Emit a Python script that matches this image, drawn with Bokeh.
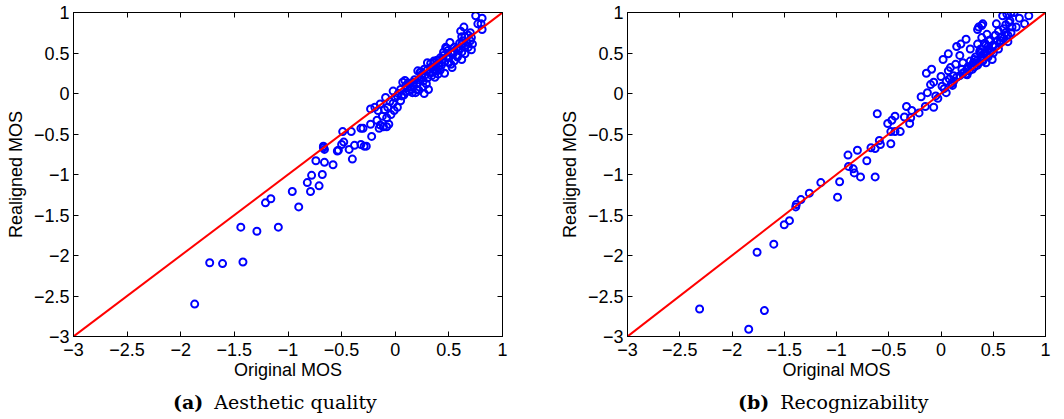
from bokeh.plotting import figure
from bokeh.models import LinearAxis, FixedTicker, Range1d, Div, CustomLabelingPolicy
from bokeh.layouts import row, column
from bokeh.embed import file_html
from bokeh.resources import INLINE

ticks = [-3, -2.5, -2, -1.5, -1, -0.5, 0, 0.5, 1]
tick_labels = ["\u22123", "\u22122.5", "\u22122", "\u22121.5", "\u22121", "\u22120.5", "0", "0.5", "1"]
diag = [-3, 1]

x_label = "Original MOS"
y_label = "Realigned MOS"

# Panel (a): Aesthetic quality
a_orig = [-1.87, -1.73, -1.61, -1.42, -1.44, -1.29, -1.09, -1.21, -1.16, -0.96, -0.90, -0.82, -0.78, -0.79, -0.71, -0.68,
          -0.74, -0.66, -0.58, -0.67, -0.66, -0.67, -0.54, -0.53, -0.50, -0.48, -0.49, -0.41, -0.43, -0.40, -0.38, -0.32,
          -0.29, -0.27, -0.32, -0.30, -0.22, -0.23, -0.23, -0.19, -0.16, -0.14, -0.17, -0.14, -0.15, -0.11, -0.08, -0.06,
          -0.08, -0.07, -0.09, -0.04, -0.01, 0.02, -0.02, 0.02, 0.05, 0.06, 0.07, 0.09, 0.11, 0.14, 0.17, 0.19, 0.20, 0.21,
          0.23, 0.25, 0.27, 0.31, 0.29, 0.30, 0.33, 0.36, 0.35, 0.37, 0.39, 0.41, 0.46, 0.45, 0.47, 0.49, 0.51, 0.54, 0.53,
          0.50, 0.55, 0.58, 0.59, 0.62, 0.64, 0.61, 0.62, 0.65, 0.62, 0.67, 0.68, 0.70, 0.71, 0.71, 0.75, 0.77, 0.81, 0.81,
          0.80, 0.72,
          0.05, 0.10, 0.12, 0.15, 0.18, 0.22, 0.25, 0.28, 0.30, 0.32, 0.35, 0.38, 0.40, 0.42, 0.44, 0.46, 0.48, 0.50, 0.52,
          0.55, 0.57, 0.60, 0.63, 0.66, -0.05, -0.10, -0.12, -0.02, 0.00, 0.03, 0.08, 0.13, 0.17, 0.20, 0.26, 0.30, 0.34,
          0.37, 0.40, 0.43, 0.45, 0.48, 0.52, 0.55, 0.58, 0.62, 0.65, 0.68, 0.70, 0.10, 0.14, 0.24, 0.27, 0.33, 0.36, 0.39,
          0.42, 0.26, 0.16, 0.22]
a_real = [-2.60, -2.09, -2.10, -2.08, -1.65, -1.70, -1.65, -1.35, -1.30, -1.21, -1.40, -1.10, -1.01, -1.21, -1.14, -1.00,
          -0.83, -0.85, -0.88, -0.65, -0.69, -0.67, -0.71, -0.70, -0.63, -0.60, -0.47, -0.47, -0.69, -0.81, -0.64, -0.63,
          -0.65, -0.65, -0.43, -0.43, -0.53, -0.38, -0.19, -0.17, -0.21, -0.13, -0.33, -0.39, -0.43, -0.41, -0.41, -0.38,
          -0.30, -0.17, -0.05, -0.26, -0.21, -0.17, 0.03, -0.03, -0.09, -0.03, 0.14, 0.16, 0.07, 0.08, 0.14, 0.01, 0.05, 0.28,
          0.26, 0.20, 0.00, 0.05, 0.12, 0.38, 0.32, 0.38, 0.26, 0.20, 0.28, 0.34, 0.25, 0.47, 0.57, 0.53, 0.63, 0.49, 0.32,
          0.38, 0.57, 0.47, 0.55, 0.61, 0.82, 0.77, 0.70, 0.49, 0.42, 0.63, 0.57, 0.75, 0.54, 0.69, 0.96, 0.86, 0.93, 0.79,
          0.86, 0.61,
          0.05, 0.10, 0.13, 0.05, 0.17, 0.17, 0.24, 0.23, 0.29, 0.26, 0.33, 0.34, 0.37, 0.29, 0.42, 0.39, 0.45, 0.44, 0.50,
          0.52, 0.55, 0.62, 0.65, 0.60, -0.10, -0.20, -0.28, -0.12, -0.05, 0.00, -0.02, 0.03, 0.10, 0.12, 0.15, 0.19, 0.22,
          0.28, 0.24, 0.35, 0.51, 0.56, 0.36, 0.40, 0.45, 0.51, 0.70, 0.72, 0.65, 0.02, 0.12, 0.27, 0.30, 0.37, 0.40, 0.41,
          0.44, 0.08, 0.01, 0.04]

# Panel (b): Recognizability
b_orig = [-2.31, -1.84, -1.69, -1.76, -1.60, -1.50, -1.45, -1.39, -1.385, -1.34, -1.26, -1.15, -0.99, -0.97, -0.89,
          -0.885, -0.84, -0.83, -0.80, -0.77, -0.71, -0.67, -0.63, -0.63, -0.61, -0.59, -0.58, -0.51, -0.48, -0.47, -0.44,
          -0.48, -0.44, -0.39, -0.35, -0.33, -0.30, -0.29, -0.28, -0.21, -0.19, -0.15, -0.13, -0.14, -0.09, -0.10, -0.07,
          -0.07, -0.05, -0.03, 0.00, 0.01, 0.02, 0.05, 0.07, 0.07, 0.09, 0.11, 0.12, 0.14, 0.15, 0.19, 0.24, 0.18, 0.21,
          0.24, 0.28, 0.29, 0.32, 0.35, 0.36, 0.39, 0.40, 0.35, 0.39, 0.38, 0.41, 0.44, 0.46, 0.43, 0.47, 0.50, 0.53, 0.55,
          0.49, 0.57, 0.57, 0.59, 0.63, 0.66, 0.67, 0.70, 0.68, 0.67, 0.64, 0.72, 0.75, 0.80, 0.84,
          0.22, 0.25, 0.27, 0.30, 0.32, 0.34, 0.36, 0.38, 0.40, 0.42, 0.44, 0.46, 0.48, 0.50, 0.52, 0.54, 0.56, 0.58, 0.60,
          0.62, 0.64, 0.30, 0.35, 0.40, 0.45, 0.50, 0.55, 0.25, 0.33, 0.37, 0.43, 0.47, 0.15, 0.18, 0.10, 0.12, 0.20, 0.28,
          0.60, 0.62, 0.65, 0.52, 0.45, 0.42, 0.38, 0.31, 0.26, 0.21, 0.05, 0.08, 0.03]
b_real = [-2.66, -2.91, -2.68, -1.96, -1.86, -1.62, -1.57, -1.40, -1.37, -1.31, -1.23, -1.10, -1.28, -1.09, -0.76,
          -0.90, -0.93, -0.98, -0.70, -1.03, -0.83, -0.67, -1.03, -0.68, -0.25, -0.58, -0.63, -0.37, -0.62, -0.33, -0.28,
          -0.47, -0.47, -0.47, -0.29, -0.16, -0.37, -0.30, -0.21, -0.24, -0.04, -0.16, 0.01, 0.25, 0.30, 0.11, 0.14,
          -0.17, -0.03, -0.06, 0.21, 0.09, 0.42, 0.01, 0.49, 0.28, 0.32, 0.10, 0.22, 0.36, 0.58, 0.61, 0.67, 0.47, 0.38,
          0.24, 0.55, 0.34, 0.42, 0.79, 0.82, 0.84, 0.86, 0.61, 0.69, 0.55, 0.49, 0.73, 0.65, 0.38, 0.53, 0.59, 0.86, 0.77,
          0.42, 0.69, 0.65, 0.96, 0.98, 0.90, 1.00, 1.00, 0.82, 0.75, 0.64, 0.82, 0.93, 0.86, 0.96,
          0.26, 0.30, 0.28, 0.35, 0.33, 0.40, 0.38, 0.45, 0.42, 0.50, 0.47, 0.55, 0.52, 0.60, 0.58, 0.65, 0.62, 0.70, 0.68,
          0.75, 0.72, 0.30, 0.35, 0.40, 0.45, 0.50, 0.55, 0.23, 0.45, 0.52, 0.60, 0.66, 0.20, 0.22, 0.12, 0.15, 0.30, 0.40,
          0.80, 0.85, 0.88, 0.72, 0.58, 0.62, 0.50, 0.38, 0.33, 0.25, 0.15, 0.18, 0.06]

SANS = "Liberation Sans"
SERIF = "DejaVu Serif"
FS = "18px"
CAP_FS = "19px"


def make_panel(xs, ys, width, left, right):
    p = figure(width=width, height=390, min_border_left=left, min_border_right=right,
               min_border_top=12, min_border_bottom=54,
               x_range=Range1d(-3, 1), y_range=Range1d(-3, 1),
               output_backend="svg", toolbar_location=None, tools="")
    p.background_fill_color = "white"
    p.border_fill_color = "white"
    p.outline_line_color = "black"
    p.outline_line_width = 1
    p.xgrid.visible = False
    p.ygrid.visible = False

    p.scatter(xs, ys, marker="circle", size=7, fill_color=None, line_color="#0000ff", line_width=2)
    p.line(diag, diag, line_color="#ff0000", line_width=2)

    overrides = {t: s for t, s in zip(ticks, tick_labels)}
    for ax in (p.xaxis[0], p.yaxis[0]):
        ax.ticker = FixedTicker(ticks=ticks)
        ax.major_label_overrides = overrides
        ax.major_tick_in = 5
        ax.major_tick_out = 0
        ax.minor_tick_line_color = None
        ax.axis_line_color = "black"
        ax.major_tick_line_color = "black"
        ax.major_label_text_font = SANS
        ax.major_label_text_font_size = FS
        ax.major_label_text_color = "black"
        ax.axis_label_text_font = SANS
        ax.axis_label_text_font_size = FS
        ax.axis_label_text_font_style = "normal"
        ax.axis_label_text_color = "black"
    p.xaxis[0].axis_label = x_label
    p.yaxis[0].axis_label = y_label
    p.xaxis[0].major_label_standoff = 6
    p.xaxis[0].axis_label_standoff = 1
    p.yaxis[0].major_label_standoff = 4
    p.yaxis[0].axis_label_standoff = 5

    blank = {t: "" for t in ticks}
    for loc in ("above", "right"):
        ax = LinearAxis(ticker=FixedTicker(ticks=ticks), major_tick_in=5, major_tick_out=0,
                        minor_tick_line_color=None, major_label_standoff=0,
                        major_label_overrides=blank,
                        major_label_policy=CustomLabelingPolicy(code="return []"),
                        axis_line_color="black", major_tick_line_color="black")
        p.add_layout(ax, loc)
    return p


def caption(tag, text, width, pad):
    html = ('<span style="font-weight:bold">%s</span>'
            '<span style="margin-left:11px">%s</span>' % (tag, text))
    return Div(text=html, width=width - pad, height=29, margin=(0, 0, 0, pad),
               styles={"font-family": SERIF, "font-size": CAP_FS, "color": "black",
                       "line-height": "24px", "white-space": "nowrap"})


pa = make_panel(a_orig, a_real, 554, 73, 52)
pb = make_panel(b_orig, b_real, 499, 73, 8)
ca = caption("(a)", "Aesthetic quality", 554, 173)
cb = caption("(b)", "Recognizability", 499, 184)

layout = row(column(pa, ca, spacing=0), column(pb, cb, spacing=0), spacing=0)
open("out.html", "w").write(file_html(layout, INLINE))
